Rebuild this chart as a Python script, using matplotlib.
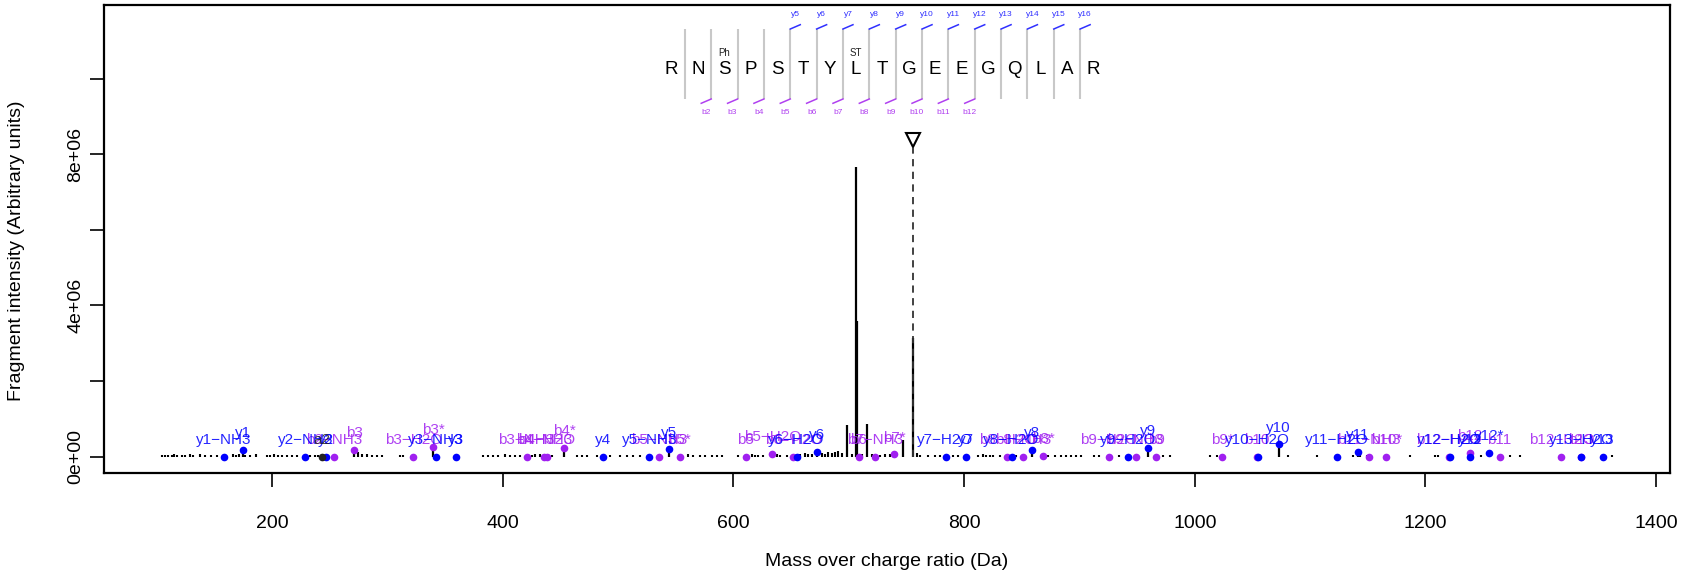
import matplotlib
matplotlib.use("Agg")
import matplotlib.pyplot as plt

plt.rcParams['font.family'] = ['Liberation Sans', 'DejaVu Sans']

# peptide fragment map
sequence = ["R", "N", "S", "P", "S", "T", "Y", "L", "T", "G", "E", "E", "G", "Q", "L", "A", "R"]
mod_pos = [3, 8]
mod_labels = ["Ph", "ST"]
y_cuts = [5, 6, 7, 8, 9, 10, 11, 12, 13, 14, 15, 16]
y_cut_labels = ["y5", "y6", "y7", "y8", "y9", "y10", "y11", "y12", "y13", "y14", "y15", "y16"]
b_cuts = [2, 3, 4, 5, 6, 7, 8, 9, 10, 11, 12]
b_cut_labels = ["b2", "b3", "b4", "b5", "b6", "b7", "b8", "b9", "b10", "b11", "b12"]

# unannotated peaks (m/z, intensity)
noise_mz = [104.4, 107.3, 110.1, 113.1, 115.1, 117.9, 121.7, 124.6, 128.9, 131.8, 137.6, 141.9,
            146.9, 152.1, 165.9, 168.8, 171.7, 176.6, 180.9, 186.1, 195.4, 198.3, 201.7, 205.5,
            208.4, 212.7, 217.1, 221.4, 232.9, 237.3, 240.1, 274.8, 277.7, 282.1, 286.4, 290.7,
            295.1, 310.9, 313.8, 383.1, 387.5, 391.8, 396.1, 401.9, 406.3, 410.6, 414.9, 425.1,
            428.0, 432.3, 442.4, 464.1, 468.4, 472.8, 481.4, 493.0, 501.6, 507.4, 513.2, 519.0,
            560.8, 565.2, 571.0, 575.3, 581.1, 585.4, 589.8, 604.2, 615.8, 618.6, 621.5, 625.8,
            637.4, 640.3, 646.1, 657.6, 661.9, 664.8, 667.8, 676.4, 679.3, 682.2, 685.1, 688.0,
            690.9, 693.8, 702.4, 711.1, 719.8, 727.0, 731.4, 735.7, 758.8, 761.6, 768.8, 774.6,
            778.9, 790.5, 794.8, 812.2, 816.5, 819.4, 822.3, 825.2, 831.0, 845.4, 872.8, 878.6,
            884.4, 888.7, 893.1, 897.4, 901.5, 912.4, 917.0, 934.0, 972.8, 978.9, 1013.0, 1019.1,
            1081.1, 1105.8, 1136.9, 1143.0, 1149.2, 1186.3, 1208.0, 1211.1, 1248.2, 1273.0,
            1282.3, 1361.4]
noise_int = [0.04e6, 0.03e6, 0.05e6, 0.04e6, 0.06e6, 0.03e6, 0.05e6, 0.04e6, 0.07e6, 0.04e6, 0.06e6, 0.03e6,
             0.05e6, 0.04e6, 0.06e6, 0.05e6, 0.07e6, 0.05e6, 0.04e6, 0.06e6, 0.05e6, 0.04e6, 0.06e6, 0.03e6,
             0.05e6, 0.04e6, 0.05e6, 0.03e6, 0.04e6, 0.05e6, 0.04e6, 0.12e6, 0.08e6, 0.06e6, 0.05e6, 0.04e6,
             0.05e6, 0.04e6, 0.05e6, 0.04e6, 0.03e6, 0.04e6, 0.05e6, 0.06e6, 0.04e6, 0.05e6, 0.04e6, 0.05e6,
             0.08e6, 0.06e6, 0.05e6, 0.04e6, 0.05e6, 0.04e6, 0.05e6, 0.04e6, 0.05e6, 0.04e6, 0.05e6, 0.04e6,
             0.06e6, 0.04e6, 0.05e6, 0.04e6, 0.04e6, 0.03e6, 0.05e6, 0.04e6, 0.06e6, 0.05e6, 0.04e6, 0.05e6,
             0.08e6, 0.05e6, 0.04e6, 0.06e6, 0.09e6, 0.07e6, 0.06e6, 0.10e6, 0.08e6, 0.12e6, 0.09e6, 0.11e6,
             0.14e6, 0.10e6, 0.08e6, 0.07e6, 0.06e6, 0.05e6, 0.08e6, 0.06e6, 0.09e6, 0.05e6, 0.04e6, 0.05e6,
             0.04e6, 0.05e6, 0.04e6, 0.04e6, 0.06e6, 0.05e6, 0.04e6, 0.05e6, 0.04e6, 0.05e6, 0.05e6, 0.04e6,
             0.05e6, 0.04e6, 0.05e6, 0.04e6, 0.04e6, 0.05e6, 0.04e6, 0.05e6, 0.04e6, 0.05e6, 0.04e6, 0.05e6,
             0.05e6, 0.04e6, 0.05e6, 0.06e6, 0.04e6, 0.05e6, 0.04e6, 0.05e6, 0.04e6, 0.05e6,
             0.04e6, 0.04e6]

major_mz = [698.1, 706.6, 706.9, 715.5, 747.0, 755.5]
major_int = [0.83e6, 7.67e6, 3.60e6, 0.86e6, 0.44e6, 3.14e6]

precursor_mz = 755.5
precursor_mark = 8.38e6

# annotated fragments
y_mz = [158.4, 175.1, 228.9, 246.5, 341.9, 359.2, 487.2, 527.0, 543.8, 654.7, 672.6, 783.9,
        801.5, 841.1, 858.7, 941.8, 959.8, 1054.7, 1072.7, 1123.5, 1141.5, 1221.0, 1239.0,
        1255.3, 1334.9, 1353.5]
y_int = [0, 0.17e6, 0, 0, 0, 0, 0, 0, 0.19e6, 0, 0.13e6, 0,
         0, 0, 0.17e6, 0, 0.23e6, 0, 0.32e6, 0, 0.12e6, 0, 0,
         0.10e6, 0, 0]
y_lab = ["y1−NH3", "y1", "y2−NH3", "y2", "y3−NH3", "y3", "y4", "y5−NH3", "y5", "y6−H2O", "y6", "y7−H2O",
         "y7", "y8−H2O", "y8", "y9−H2O", "y9", "y10−H2O", "y10", "y11−H2O", "y11", "y12−H2O", "y12",
         "y12*", "y13−H2O", "y13"]

b_mz = [254.0, 271.1, 322.5, 339.8, 420.7, 435.8, 438.1, 453.1, 535.7, 553.6, 610.6, 633.6,
        651.8, 708.5, 722.6, 739.4, 837.6, 851.2, 868.5, 925.7, 948.6, 966.5, 1023.8, 1053.8,
        1150.7, 1166.2, 1220.4, 1238.4, 1264.3, 1317.9, 1334.9]
b_int = [0, 0.17e6, 0, 0.26e6, 0, 0, 0, 0.22e6, 0, 0, 0, 0.08e6,
         0, 0, 0, 0.06e6, 0, 0, 0.02e6, 0, 0, 0, 0, 0,
         0, 0, 0, 0.09e6, 0, 0, 0]
b_lab = ["b2−NH3", "b3", "b3−H2O", "b3*", "b3−NH3", "b4−NH3", "b4−H2O", "b4*", "b5−NH3", "b5*", "b5", "b5−H2O",
         "b6−H2O", "b6", "b7−NH3", "b7*", "b8−H2O", "b8−NH3", "b8*", "b9−H2O", "b9−NH3", "b9", "b9*", "b10",
         "b11−NH3", "b10*", "b12−H2O", "b12", "b11", "b12−H2O", "b13"]

a_mz = [243.1]
a_int = [0]
a_lab = ["a2"]

BLUE = "#0000FF"
PURPLE = "#A020F0"

fig = plt.figure(figsize=(16.92, 5.80), dpi=100)
# box in pixels: left 104, right 1670, top 5, bottom 473
AX_L, AX_R, AX_T, AX_B = 104, 1670, 5, 473
ax = fig.add_axes([AX_L / 1692, (580 - AX_B) / 580, (AX_R - AX_L) / 1692, (AX_B - AX_T) / 580])


def px(x, y):
    # pixel position in the figure -> axes fraction
    return (x - AX_L) / (AX_R - AX_L), (AX_B - y) / (AX_B - AX_T)


# spectrum
ax.vlines(noise_mz, 0, noise_int, color="black", lw=1.5)
ax.vlines(major_mz, 0, major_int, color="black", lw=1.6)
ax.vlines(y_mz + b_mz + a_mz, 0, y_int + b_int + a_int, color="black", lw=1.6)
ax.plot([precursor_mz, precursor_mz], [0, precursor_mark], color="#333333", lw=1.3,
        ls=(0, (4, 3)))
ax.plot(precursor_mz, precursor_mark, marker="v", ms=10, mfc="white", mec="black", mew=1.5)

ax.plot(b_mz, b_int, "o", color=PURPLE, ms=5.5, mec="none", zorder=3)
ax.plot(y_mz, y_int, "o", color=BLUE, ms=5.5, mec="none", zorder=3)
ax.plot(a_mz, a_int, "o", color="#222222", ms=5.5, mec="none", zorder=3)

for mz, inten, lab in zip(b_mz, b_int, b_lab):
    ax.annotate(lab, (mz, inten), xytext=(0, 7), textcoords="offset points", ha="center",
                va="bottom", fontsize=11, color=PURPLE, alpha=0.85)
for mz, inten, lab in zip(y_mz, y_int, y_lab):
    ax.annotate(lab, (mz, inten), xytext=(0, 7), textcoords="offset points", ha="center",
                va="bottom", fontsize=11, color=BLUE, alpha=0.85)
for mz, inten, lab in zip(a_mz, a_int, a_lab):
    ax.annotate(lab, (mz, inten), xytext=(0, 7), textcoords="offset points", ha="center",
                va="bottom", fontsize=11, color="#222222", alpha=0.85)

# fragment map on top
x0, dx = 671.7, 26.35
for i, aa in enumerate(sequence):
    ax.text(*px(x0 + i * dx, 70), aa, transform=ax.transAxes, ha="center", va="center",
            fontsize=13.5)
for pos, lab in zip(mod_pos, mod_labels):
    ax.text(*px(x0 + (pos - 1) * dx, 53), lab, transform=ax.transAxes, ha="center",
            va="center", fontsize=7, color="#222222")
for k in range(1, len(sequence)):
    lx = x0 + (k - 0.5) * dx
    (xa, ya), (xb, yb) = px(lx, 29), px(lx, 99)
    ax.plot([xa, xb], [ya, yb], transform=ax.transAxes, color="#C8C8C8", lw=1.5,
            solid_capstyle="butt")
for k, lab in zip(y_cuts, y_cut_labels):
    lx = x0 + (k - 0.5) * dx
    (xa, ya), (xb, yb) = px(lx, 29), px(lx + 10, 24.7)
    ax.plot([xa, xb], [ya, yb], transform=ax.transAxes, color="#3030FF", lw=1.1)
    ax.text(*px(lx + 5, 14), lab, transform=ax.transAxes, ha="center", va="center",
            fontsize=6, color="#3030FF")
for k, lab in zip(b_cuts, b_cut_labels):
    lx = x0 + (k - 0.5) * dx
    (xa, ya), (xb, yb) = px(lx, 99), px(lx - 10, 103.3)
    ax.plot([xa, xb], [ya, yb], transform=ax.transAxes, color="#B040F0", lw=1.1)
    ax.text(*px(lx - 5, 113), lab, transform=ax.transAxes, ha="center", va="center",
            fontsize=6, color="#B040F0")

# axes
ax.set_xlim(54.3, 1412)
ax.set_ylim(-0.436e6, 11.95e6)
x_ticks = [200, 400, 600, 800, 1000, 1200, 1400]
y_ticks = [0, 2e6, 4e6, 6e6, 8e6, 10e6]
y_tick_labels = ["0e+00", "", "4e+06", "", "8e+06", ""]
ax.set_xticks(x_ticks)
ax.set_xticklabels([str(t) for t in x_ticks])
ax.set_yticks(y_ticks)
ax.set_yticklabels(y_tick_labels)
for lbl in ax.get_yticklabels():
    lbl.set_rotation(90)
    lbl.set_va("center")
ax.tick_params(axis="both", length=10, width=1.2, labelsize=14)
ax.tick_params(axis="x", pad=20)
ax.tick_params(axis="y", pad=4)
for s in ax.spines.values():
    s.set_linewidth(1.6)

ax.set_xlabel("Mass over charge ratio (Da)", fontsize=14)
ax.xaxis.label.set_va("center")
ax.xaxis.set_label_coords(0.5, -(562 - AX_B) / (AX_B - AX_T))
ax.set_ylabel("Fragment intensity (Arbitrary units)", fontsize=14)
ax.yaxis.label.set_va("center")
ax.yaxis.set_label_coords((16 - AX_L) / (AX_R - AX_L), (AX_B - 251) / (AX_B - AX_T))

fig.savefig("out.png", dpi=100)
